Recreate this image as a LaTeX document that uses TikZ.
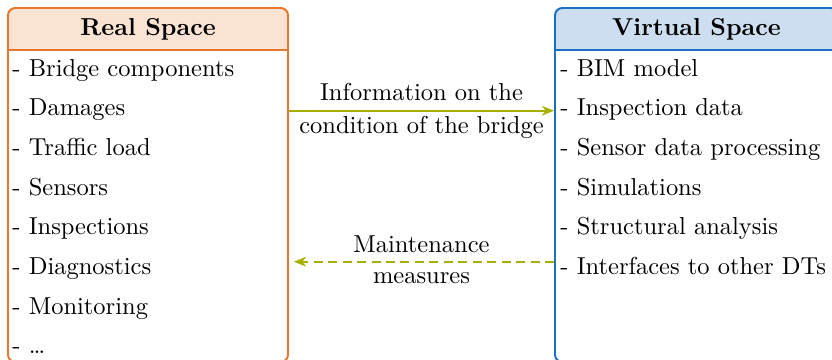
\documentclass[tikz,border=0pt]{standalone}
\usetikzlibrary{arrows.meta,fit,calc}
\definecolor{realline}{HTML}{E8772E}
\definecolor{realfill}{HTML}{FAE3D3}
\definecolor{virtline}{HTML}{1B70C6}
\definecolor{virtfill}{HTML}{CCDEF0}
\definecolor{flowcol}{HTML}{A7B000}
\tikzset{
  spacebox/.style={draw, line width=0.8pt, rounded corners=3pt, inner sep=0pt},
  itemtext/.style={anchor=base west, inner sep=0pt},
  headtext/.style={anchor=base, inner sep=0pt, font=\bfseries},
  flowlabel/.style={anchor=base, inner sep=0pt},
  flow/.style={draw=flowcol, line width=0.8pt, -{Stealth[length=5pt,width=4pt]}},
}
\begin{document}
\begin{tikzpicture}[x=0.4082pt,y=-0.4082pt]
\useasboundingbox (0,0) rectangle (832,359);
\clip (0,0) rectangle (832,359);

% header fills
\begin{scope}
  \clip (0,0) rectangle (832,50);
  \fill[realfill, rounded corners=3pt] (8,8) rectangle (288,90);
  \fill[virtfill, rounded corners=3pt] (555,8) rectangle (838,90);
\end{scope}

% the two boxes
\node[spacebox, draw=realline, fit={(8,8)(288,362)}] (real) {};
\node[spacebox, draw=virtline, fit={(555,8)(838,362)}] (virt) {};
\draw[realline, line width=0.8pt] (real.west |- 0,50) -- (real.east |- 0,50);
\draw[virtline, line width=0.8pt] (virt.west |- 0,50) -- (virt.east |- 0,50);

% headers
\node[headtext] (realhead) at (148,35.7) {Real Space};
\node[headtext] (virthead) at (696.5,35.7) {Virtual Space};

% real space items
\foreach \t [count=\i from 0] in {Bridge components, Damages, Traffic load, Sensors, Inspections, Diagnostics, Monitoring}
  \node[itemtext] (r\i) at (12, 76+39.7*\i) {- \t};
\node[itemtext] (r7) at (12, 76+39.7*7) {- \ldots};

% virtual space items
\foreach \t [count=\i from 0] in {BIM model, Inspection data, Sensor data processing, Simulations, Structural analysis, Interfaces to other DTs}
  \node[itemtext] (v\i) at (560, 76+39.7*\i) {- \t};

% information flow
\coordinate (infoy) at (0,110.7);
\coordinate (mainty) at (0,261.7);
\draw[flow] (real.east |- infoy) -- (virt.west |- infoy);
\draw[flow, dash pattern=on 3.7pt off 2.2pt, shorten >=1pt] (virt.west |- mainty) -- ($(real.east |- mainty)+(2.5,0)$);

\node[flowlabel] (info1) at (421.5,100) {Information on the};
\node[flowlabel] (info2) at (421.5,133) {condition of the bridge};
\node[flowlabel] (maint1) at (421.5,252) {Maintenance};
\node[flowlabel] (maint2) at (421.5,283) {measures};
\end{tikzpicture}
\end{document}
